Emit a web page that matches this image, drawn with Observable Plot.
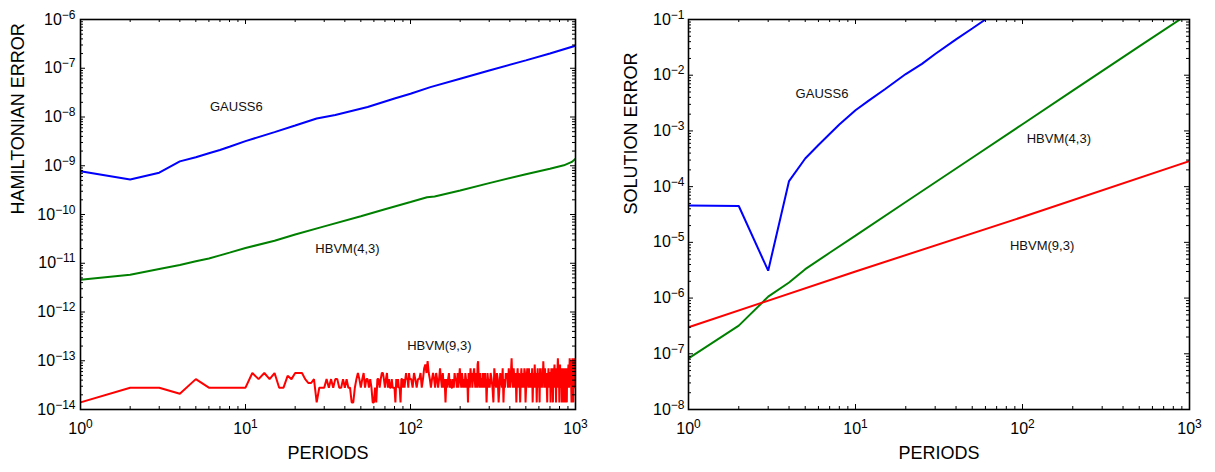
<!DOCTYPE html>
<html><head><meta charset="utf-8">
<script src="https://cdn.jsdelivr.net/npm/d3@7"></script>
<script src="https://cdn.jsdelivr.net/npm/@observablehq/plot@0.6"></script>
<style>
body{margin:0;background:#fff;font-family:"Liberation Sans",Arial,sans-serif;}
#wrap{position:relative;width:1215px;height:472px;overflow:hidden}
#left{position:absolute;left:0;top:0}
#right{position:absolute;left:600px;top:0}
</style></head><body><div id="wrap"><div id="left"></div><div id="right"></div></div>
<script>
// ---------- data ----------
const xTickValues = [1, 10, 100, 1000];
const hamYTicks = [1e-14, 1e-13, 1e-12, 1e-11, 1e-10, 1e-9, 1e-8, 1e-7, 1e-6];
const solYTicks = [1e-8, 1e-7, 1e-6, 1e-5, 1e-4, 1e-3, 1e-2, 1e-1];

// Left panel: Hamiltonian error
const hamGaussPeriods = [1,2,3,4,5,6,7,8,10,15,20,27,35,55,80,100,132,200,300,500,700,1000];
const hamGaussValues = [7.7e-10,5.2e-10,7.2e-10,1.23e-9,1.5e-9,1.8e-9,2.1e-9,2.45e-9,3.2e-9,4.9e-9,6.7e-9,9.3e-9,1.1e-8,1.6e-8,2.4e-8,3.0e-8,4.1e-8,6.1e-8,9.0e-8,1.45e-7,2.0e-7,2.9e-7];

const hamHb43Periods = [1,2,3,4,5,6,7,8,10,15,20,30,50,70,100,126,140,200,300,500,700,850,950,1000];
const hamHb43Values = [4.6e-12,5.8e-12,7.6e-12,9.2e-12,1.1e-11,1.25e-11,1.45e-11,1.65e-11,2.05e-11,2.9e-11,3.9e-11,5.7e-11,9.2e-11,1.28e-10,1.8e-10,2.25e-10,2.35e-10,3.1e-10,4.4e-10,6.7e-10,8.7e-10,1.02e-9,1.2e-9,1.4e-9];

// HBVM(9,3) Hamiltonian error, in units of 1e-14
const hamHb93PeriodsA = d3.range(1, 101);          // every period 1..100
const hamHb93ValuesA = [
 1.4,2.8,2.8,2.1,4.2,2.8,2.8,2.8,2.8,2.8,
 5.6,4.2,5.6,4.2,5.6,2.8,2.8,4.9,4.2,5.6,
 5.6,5.6,4.2,3.5,3.5,4.2,1.4,2.8,2.8,2.8,
 4.2,2.8,4.2,2.8,4.2,4.2,2.8,2.8,4.2,2.8,
 4.2,2.8,2.8,1.4,1.4,2.8,4.2,5.6,4.2,2.8,
 4.2,5.6,2.8,4.2,4.2,2.8,4.2,2.8,1.4,1.4,
 2.8,1.4,4.2,4.2,2.8,4.2,5.6,5.6,4.2,2.8,
 4.2,5.6,2.8,4.2,2.8,2.8,4.2,2.8,2.8,2.8,
 1.4,4.2,2.8,4.2,2.8,2.8,1.4,4.2,4.2,2.8,
 4.2,2.8,4.2,5.6,4.2,4.2,2.8,5.6,4.2,4.2];
const hamHb93PeriodsB = d3.range(101, 300, 2);     // 101..299
const hamHb93ValuesB = [
 4.2,2.8,5.6,4.2,2.8,4.2,4.2,5.6,2.8,4.2,7,8.4,5.6,9.8,5.6,4.2,2.8,4.2,5.6,4.2,
 2.8,5.6,4.2,2.8,4.2,7,4.2,2.8,5.6,2.8,4.2,1.4,4.2,2.8,4.2,5.6,2.8,4.2,2.8,2.8,
 4.2,2.8,5.6,4.2,4.2,2.8,5.6,2.8,4.2,7,4.2,2.8,5.6,4.2,2.8,4.2,2.8,5.6,4.2,2.8,
 4.2,1.4,5.6,4.2,2.8,7,4.2,5.6,2.8,4.2,5.6,7,4.2,2.8,5.6,4.2,2.8,8.4,9.8,4.2,
 2.8,4.2,5.6,2.8,4.2,4.2,2.8,5.6,4.2,2.8,4.2,5.6,2.8,4.2,1.4,2.8,5.6,4.2,2.8,4.2];
const hamHb93PeriodsC = d3.range(302, 1000, 4).concat([1000]); // 302..998, 1000
const hamHb93ValuesC = [
 2.8,5.6,4.2,2.8,1.4,7,4.2,2.8,5.6,4.2,1.4,2.8,5.6,4.2,2.8,7,1.4,4.2,2.8,5.6,
 4.2,5.6,2.8,7,4.2,2.8,5.6,11.2,4.2,2.8,7,4.2,2.8,5.6,1.4,4.2,7,2.8,5.6,4.2,
 1.4,4.2,7,2.8,5.6,4.2,2.8,7,5.6,1.4,2.8,4.2,7,5.6,2.8,7,4.2,2.8,5.6,4.2,
 2.8,7,1.4,4.2,5.6,2.8,8.4,4.2,2.8,5.6,1.4,4.2,7,2.8,5.6,4.2,1.4,7,4.2,2.8,
 5.6,2.8,7,4.2,9.8,5.6,2.8,4.2,7,2.8,4.2,5.6,2.8,1.4,5.6,4.2,7,2.8,4.2,5.6,
 5.6,1.4,4.2,7,2.8,5.6,4.2,1.4,7,2.8,5.6,8.4,4.2,2.8,7,1.4,5.6,4.2,2.8,7,
 11.2,7,2.8,5.6,1.4,4.2,8.4,2.8,5.6,4.2,7,1.4,5.6,2.8,4.2,7,1.4,2.8,5.6,4.2,
 5.6,7,1.4,4.2,2.8,5.6,1.4,7,4.2,2.8,5.6,8.4,4.2,2.8,5.6,11.2,7,4.2,9.8,5.6,
 2.8,1.4,7,5.6,11.2,4.2,8.4,1.4,7,4.2,11.2,5.6,2.8,7,4.2,
 2.8];

// Right panel: solution error
const solGaussPeriods = [1,2,3,4,5,6,7,8,10,12,15,20,25,30,40,50,60];
const solGaussValues = [4.6e-5,4.5e-5,3.1e-6,1.26e-4,3.2e-4,5.6e-4,8.8e-4,1.3e-3,2.35e-3,3.5e-3,5.6e-3,1.05e-2,1.6e-2,2.4e-2,4.4e-2,6.9e-2,0.1];
const solHb43Periods = [1,2,3,4,5,7,10,20,50,100,200,500,1000];
const solHb43Values = [8.3e-8,3.2e-7,1.06e-6,1.9e-6,3.3e-6,6.5e-6,1.32e-5,5.3e-5,3.3e-4,1.32e-3,5.3e-3,3.3e-2,0.13];
const solHb93Periods = [1,10,100,1000];
const solHb93Values = [3.0e-7,3.0e-6,2.85e-5,2.87e-4];

// Series labels
const hamLabels = [
  {t: "GAUSS6", x: 8.8, y: 1.6e-8},
  {t: "HBVM(4,3)", x: 41.5, y: 2.0e-11},
  {t: "HBVM(9,3)", x: 149.5, y: 2.05e-13}
];
const solLabels = [
  {t: "GAUSS6", x: 6.3, y: 4.7e-3},
  {t: "HBVM(4,3)", x: 165, y: 7.3e-4},
  {t: "HBVM(9,3)", x: 131, y: 8.5e-6}
];

const colors = {gauss: "#0000ff", hb43: "#008000", hb93: "#ff0000"};

// ---------- helpers ----------
const zip = (ps, vs, k = 1) => ps.slice(0, Math.min(ps.length, vs.length)).map((p, i) => ({p, v: vs[i] * k}));
function minorTicks(majors) {
  const out = [];
  for (let i = 0; i < majors.length - 1; i++) for (let m = 2; m <= 9; m++) out.push(majors[i] * m);
  return out;
}
const fmt = d => "10^" + Math.round(Math.log10(d));

function panel({width, marginLeft, marginRight, yTicks, series, labels, yLabel, yLabelDx, yTickPad}) {
  const height = 472, marginTop = 19, marginBottom = 63;
  const fw = width - marginLeft - marginRight, fh = height - marginTop - marginBottom;
  const xMinor = minorTicks(xTickValues), yMinor = minorTicks(yTicks);
  const MJ = 5, MN = 3;
  const svg = Plot.plot({
    width, height, marginLeft, marginRight, marginTop, marginBottom,
    style: {fontFamily: '"Liberation Sans", Arial, sans-serif', fontSize: "16px", background: "white", color: "black", overflow: "visible"},
    x: {type: "log", domain: [1, 1000]},
    y: {type: "log", domain: [yTicks[0], yTicks[yTicks.length - 1]]},
    marks: [
      ...series.map(s => Plot.line(s.data, {x: "p", y: "v", stroke: s.color, strokeWidth: 2, clip: true, strokeLinejoin: "miter"})),
      // inward ticks
      Plot.tickX(xTickValues, {x: d => d, insetTop: fh - MJ, strokeWidth: 1}),
      Plot.tickX(xTickValues, {x: d => d, insetBottom: fh - MJ, strokeWidth: 1}),
      Plot.tickX(xMinor, {x: d => d, insetTop: fh - MN, strokeWidth: 1}),
      Plot.tickX(xMinor, {x: d => d, insetBottom: fh - MN, strokeWidth: 1}),
      Plot.tickY(yTicks, {y: d => d, insetRight: fw - MJ, strokeWidth: 1}),
      Plot.tickY(yTicks, {y: d => d, insetLeft: fw - MJ, strokeWidth: 1}),
      Plot.tickY(yMinor, {y: d => d, insetRight: fw - MN, strokeWidth: 1}),
      Plot.tickY(yMinor, {y: d => d, insetLeft: fw - MN, strokeWidth: 1}),
      Plot.frame({stroke: "black", strokeWidth: 1.6}),
      // tick labels
      Plot.axisX(xTickValues, {tickSize: 0, tickPadding: 13, tickFormat: fmt, label: null, fontSize: 16}),
      Plot.axisY(yTicks, {tickSize: 0, tickPadding: yTickPad, tickFormat: fmt, label: null, fontSize: 16}),
      // series labels
      Plot.text(labels, {x: "x", y: "y", text: "t", fontSize: 13, fill: "#111"}),
      // axis titles
      Plot.text(["PERIODS"], {frameAnchor: "bottom", text: d => d, dy: 49, fontSize: 18}),
      Plot.text([yLabel], {frameAnchor: "left", text: d => d, rotate: -90, dx: yLabelDx, fontSize: 18})
    ]
  });
  // superscript exponents
  d3.select(svg).selectAll('g[aria-label$="tick label"] text').each(function () {
    const m = this.textContent.match(/^10\^(-?\d+)$/);
    if (!m) return;
    const sel = d3.select(this);
    sel.text("10");
    sel.append("tspan").attr("dy", "-0.5em").attr("font-size", "12px").text(m[1].replace("-", "\u2212"));
  });
  return svg;
}

const leftSvg = panel({
  width: 600, marginLeft: 80, marginRight: 25, yTicks: hamYTicks, yTickPad: 5,
  yLabel: "HAMILTONIAN ERROR", yLabelDx: -62,
  labels: hamLabels,
  series: [
    {data: zip(hamGaussPeriods, hamGaussValues), color: colors.gauss},
    {data: zip(hamHb43Periods, hamHb43Values), color: colors.hb43},
    {data: [
      ...zip(hamHb93PeriodsA, hamHb93ValuesA, 1e-14),
      ...zip(hamHb93PeriodsB, hamHb93ValuesB, 1e-14),
      ...zip(hamHb93PeriodsC, hamHb93ValuesC, 1e-14)], color: colors.hb93}
  ]
});
document.getElementById("left").appendChild(leftSvg);

const rightSvg = panel({
  width: 615, marginLeft: 88, marginRight: 26, yTicks: solYTicks, yTickPad: 4,
  yLabel: "SOLUTION ERROR", yLabelDx: -57,
  labels: solLabels,
  series: [
    {data: zip(solGaussPeriods, solGaussValues), color: colors.gauss},
    {data: zip(solHb43Periods, solHb43Values), color: colors.hb43},
    {data: zip(solHb93Periods, solHb93Values), color: colors.hb93}
  ]
});
document.getElementById("right").appendChild(rightSvg);
</script>
</body></html>
